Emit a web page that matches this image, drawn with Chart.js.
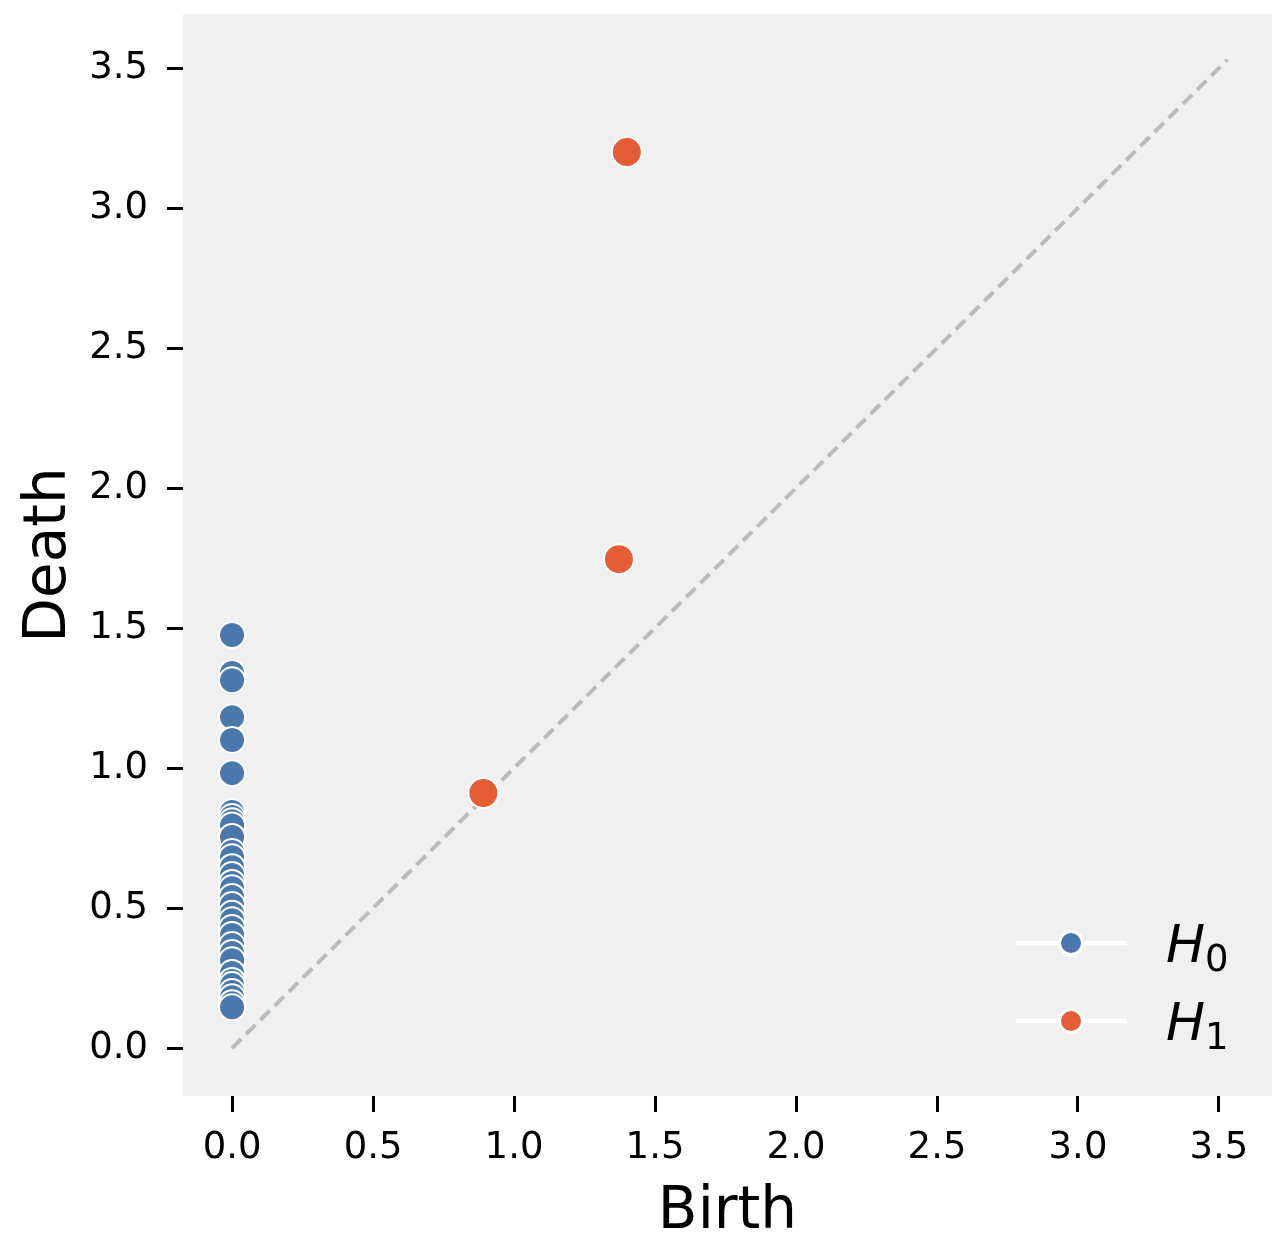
<!DOCTYPE html>
<html>
<head>
<meta charset="utf-8">
<script src="https://cdn.jsdelivr.net/npm/chart.js@4/dist/chart.umd.min.js"></script>
<style>
html, body { margin: 0; padding: 0; background: #fff; }
#wrap { width: 1281px; height: 1238px; }
</style>
</head>
<body>
<div id="wrap"><canvas id="diagram" width="1281" height="1238"></canvas></div>
<script>
// persistence diagram data (birth, death)
const seriesNames = ['H0', 'H1'];
const h0Death = [1.475, 1.340, 1.314, 1.182, 1.100, 0.982, 0.843, 0.825, 0.810, 0.795,
                 0.754, 0.700, 0.682, 0.646, 0.618, 0.590, 0.571, 0.540, 0.511, 0.480,
                 0.457, 0.429, 0.404, 0.368, 0.340, 0.314, 0.268, 0.240, 0.225, 0.200,
                 0.182, 0.160, 0.146];
const h1Birth = [1.400, 1.372, 0.891];
const h1Death = [3.200, 1.746, 0.911];
const diagonalEnds = [0, 3.53];
const tickValues = [0, 0.5, 1.0, 1.5, 2.0, 2.5, 3.0, 3.5];
const xRange = [-0.174, 3.688];
const yRange = [-0.171, 3.693];

const blue = '#4a78aa';
const orange = '#e45d35';

const plotBackground = {
    id: 'plotBackground',
    beforeDraw(chart) {
        const { ctx, chartArea: a } = chart;
        ctx.save();
        ctx.fillStyle = '#f0f0f0';
        ctx.fillRect(a.left, a.top, a.right - a.left, a.bottom - a.top);
        ctx.restore();
    }
};

// legend in the lower right corner, line + marker + italic H with subscript
const diagramLegend = {
    id: 'diagramLegend',
    afterDraw(chart) {
        const { ctx, chartArea: a } = chart;
        const rows = chart.data.datasets.filter(d => seriesNames.includes(d.label));
        rows.forEach((ds, i) => {
            const y = a.bottom - 153 + i * 78;
            ctx.save();
            ctx.strokeStyle = '#ffffff';
            ctx.lineWidth = 4.5;
            ctx.beginPath();
            ctx.moveTo(a.right - 256, y);
            ctx.lineTo(a.right - 145, y);
            ctx.stroke();
            ctx.beginPath();
            ctx.arc(a.right - 201, y, 11.5, 0, Math.PI * 2);
            ctx.fillStyle = ds.backgroundColor;
            ctx.fill();
            ctx.lineWidth = 3;
            ctx.stroke();
            ctx.fillStyle = '#000';
            ctx.textBaseline = 'alphabetic';
            ctx.font = 'italic 52px "DejaVu Sans"';
            ctx.fillText(ds.label[0], a.right - 106, y + 19);
            const w = ctx.measureText(ds.label[0]).width;
            ctx.font = '37px "DejaVu Sans"';
            ctx.fillText(ds.label.slice(1), a.right - 106 + w, y + 28);
            ctx.restore();
        });
    }
};

const tickFont = { family: 'DejaVu Sans', size: 37 };
const titleFont = { family: 'DejaVu Sans', size: 58, lineHeight: 0.8 };

function axis(range, title, sizeKey, sizeVal, titlePad, tickPad) {
    return {
        type: 'linear',
        min: range[0],
        max: range[1],
        afterBuildTicks: s => { s.ticks = tickValues.map(v => ({ value: v })); },
        afterFit: s => {
            s[sizeKey] = sizeVal;
            s.paddingTop = 0; s.paddingBottom = 0; s.paddingLeft = 0; s.paddingRight = 0;
        },
        border: { display: false },
        grid: { drawOnChartArea: false, drawTicks: true, tickLength: 16, tickWidth: 3, tickColor: '#000' },
        ticks: { color: '#000', font: tickFont, padding: tickPad, maxRotation: 0, callback: v => v.toFixed(1) },
        title: { display: true, text: title, color: '#000', font: titleFont, padding: titlePad }
    };
}

const ctx = document.getElementById('diagram').getContext('2d');

window.diagramChart = new Chart(ctx, {
    type: 'scatter',
    data: {
        datasets: [
            {
                type: 'line',
                label: 'diagonal',
                data: diagonalEnds.map(v => ({ x: v, y: v })),
                borderColor: '#bbbbbb',
                borderWidth: 4,
                borderDash: [13, 7],
                pointRadius: 0,
                order: 3
            },
            {
                label: seriesNames[0],
                data: h0Death.map(d => ({ x: 0, y: d })),
                backgroundColor: blue,
                borderColor: '#ffffff',
                borderWidth: 2,
                pointRadius: 13,
                order: 2
            },
            {
                label: seriesNames[1],
                data: h1Birth.map((b, i) => ({ x: b, y: h1Death[i] })),
                backgroundColor: orange,
                borderColor: '#ffffff',
                borderWidth: 2,
                pointRadius: 15,
                order: 1
            }
        ]
    },
    options: {
        responsive: false,
        animation: false,
        devicePixelRatio: 1,
        events: [],
        layout: { autoPadding: false, padding: { top: 14, right: 9, left: 0, bottom: 0 } },
        plugins: { legend: { display: false }, tooltip: { enabled: false } },
        scales: {
            x: axis(xRange, 'Birth', 'height', 142, { top: 0, bottom: 2 }, 14),
            y: axis(yRange, 'Death', 'width', 183, { top: 27, bottom: 0 }, 19)
        }
    },
    plugins: [plotBackground, diagramLegend]
});
</script>
</body>
</html>
